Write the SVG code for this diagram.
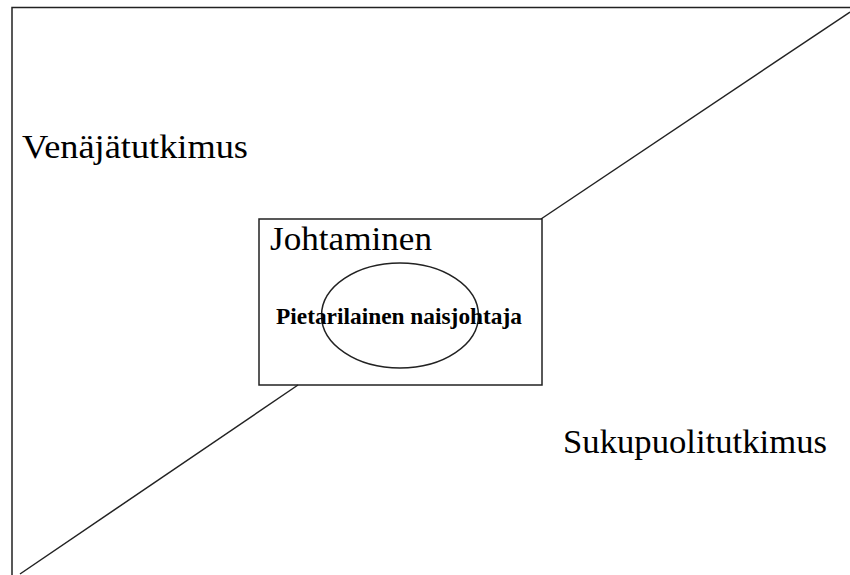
<svg xmlns="http://www.w3.org/2000/svg" width="850" height="575" viewBox="0 0 850 575">
<style>
.ln{stroke:#222;stroke-width:1.5;fill:none}
.t{font-family:"Liberation Serif","Times New Roman",serif;fill:#000}
</style>
<rect width="850" height="575" fill="#fff"/>
<g id="frame">
<polyline class="ln" points="12,575 12,7.5 850,7.5"/>
</g>
<g id="connectors">
<line class="ln" x1="850" y1="12" x2="541" y2="219"/>
<line class="ln" x1="298" y1="385" x2="20" y2="574"/>
</g>
<g id="venajatutkimus">
<text class="t" x="22" y="158" font-size="34" textLength="226" lengthAdjust="spacingAndGlyphs">Venäjätutkimus</text>
</g>
<g id="sukupuolitutkimus">
<text class="t" x="563" y="453" font-size="34" textLength="264" lengthAdjust="spacingAndGlyphs">Sukupuolitutkimus</text>
</g>
<g id="johtaminen">
<rect class="ln" x="259" y="219" width="283" height="166"/>
<text class="t" x="270" y="250" font-size="33" textLength="162" lengthAdjust="spacingAndGlyphs">Johtaminen</text>
</g>
<g id="naisjohtaja">
<ellipse class="ln" cx="400" cy="315.5" rx="78.5" ry="52.5"/>
<text class="t" x="276" y="324" font-size="23" font-weight="bold" textLength="246" lengthAdjust="spacingAndGlyphs">Pietarilainen naisjohtaja</text>
</g>
</svg>
